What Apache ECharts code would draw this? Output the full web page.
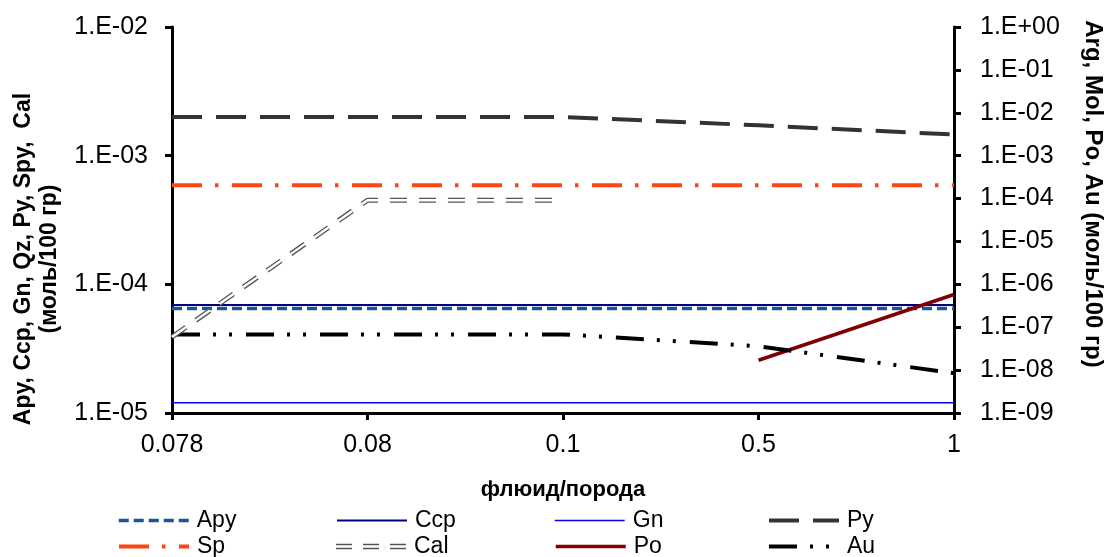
<!DOCTYPE html>
<html>
<head>
<meta charset="utf-8">
<script src="https://cdn.jsdelivr.net/npm/echarts@6/dist/echarts.min.js"></script>
<style>
html,body{margin:0;padding:0;background:#fff;}
#c{width:1106px;height:557px;}
</style>
</head>
<body>
<div id="c"></div>
<script>
// ---- data ----
var categories = ['0.078', '0.08', '0.1', '0.5', '1'];
var apy = [6.5e-5, 6.5e-5, 6.5e-5, 6.5e-5, 6.5e-5];
var ccp = [6.9e-5, 6.9e-5, 6.9e-5, 6.9e-5, 6.9e-5];
var gn  = [1.2e-5, 1.2e-5, 1.2e-5, 1.2e-5, 1.2e-5];
var py  = [2.0e-3, 2.0e-3, 2.0e-3, 1.72e-3, 1.46e-3];
var sp  = [5.9e-4, 5.9e-4, 5.9e-4, 5.9e-4, 5.9e-4];
var cal = [3.9e-5, 4.5e-4, 4.5e-4, null, null];
var po  = [null, null, null, 1.7e-8, 5.8e-7];
var au  = [6.8e-8, 6.8e-8, 6.8e-8, 3.6e-8, 8.5e-9];
var leftTicks = [1e-5, 1e-4, 1e-3, 1e-2];
var rightTicks = [1e-9, 1e-8, 1e-7, 1e-6, 1e-5, 1e-4, 1e-3, 1e-2, 1e-1, 1];

var FONT = '"Liberation Sans", Arial, sans-serif';

function fmtExp(v) {
  var e = Math.round(Math.log10(v));
  var s = e < 0 ? '-' : '+';
  var a = Math.abs(e);
  return '1.E' + s + (a < 10 ? '0' + a : '' + a);
}

function lineSeries(name, data, color, width, dash, yIdx, z) {
  return {
    name: name, type: 'line', data: data, yAxisIndex: yIdx || 0,
    symbol: 'none', showSymbol: false, connectNulls: false, z: z || 2,
    lineStyle: { color: color, width: width, type: dash || 'solid', cap: 'butt' },
    itemStyle: { color: color },
    emphasis: { disabled: true }
  };
}

var calIcon = 'path://M0,4.3h16v1.4h-16z M0,8.3h16v1.4h-16z M27,4.3h16v1.4h-16z M27,8.3h16v1.4h-16z M54,4.3h16v1.4h-16z M54,8.3h16v1.4h-16z';

function legendItem(left, top, item) {
  return {
    orient: 'horizontal', left: left, top: top, padding: 0,
    itemWidth: 70, itemHeight: 14, itemGap: 0,
    data: [item],
    selectedMode: false,
    itemStyle: { opacity: 0 },
    lineStyle: { width: 'inherit' },
    textStyle: { fontFamily: FONT, fontSize: 23, color: '#000', lineHeight: 22, padding: [0, 0, 0, 3] }
  };
}

var chart = echarts.init(document.getElementById('c'), null, { renderer: 'canvas' });
chart.setOption({
  animation: false,
  backgroundColor: '#fff',
  grid: { left: 172, right: 152, top: 27, bottom: 144 },
  xAxis: {
    type: 'category', data: categories, boundaryGap: false,
    axisLine: { show: true, lineStyle: { color: '#000', width: 3 } },
    axisTick: { show: true, alignWithLabel: true, length: 7, lineStyle: { color: '#000', width: 3 } },
    axisLabel: { fontFamily: FONT, fontSize: 25, color: '#000', margin: 20 },
    splitLine: { show: false }
  },
  yAxis: [
    {
      type: 'log', logBase: 10, min: leftTicks[0], max: leftTicks[leftTicks.length - 1], splitNumber: 3,
      position: 'left',
      axisLine: { show: true, lineStyle: { color: '#000', width: 3 } },
      axisTick: { show: true, length: 7, lineStyle: { color: '#000', width: 3 } },
      axisLabel: { fontFamily: FONT, fontSize: 25, color: '#000', margin: 24, formatter: fmtExp },
      splitLine: { show: false }, minorTick: { show: false }
    },
    {
      type: 'log', logBase: 10, min: rightTicks[0], max: rightTicks[rightTicks.length - 1], splitNumber: 9,
      position: 'right',
      axisLine: { show: true, lineStyle: { color: '#000', width: 3 } },
      axisTick: { show: true, length: 7, lineStyle: { color: '#000', width: 3 } },
      axisLabel: { fontFamily: FONT, fontSize: 25, color: '#000', margin: 26, formatter: fmtExp },
      splitLine: { show: false }, minorTick: { show: false }
    }
  ],
  legend: [
    legendItem(117, 509, 'Apy'),
    legendItem(117, 535, 'Sp'),
    legendItem(336, 509, 'Ccp'),
    legendItem(336, 535, { name: 'Cal', icon: calIcon, itemStyle: { opacity: 1, color: '#555555' } }),
    legendItem(554, 509, 'Gn'),
    legendItem(554, 535, 'Po'),
    legendItem(767, 509, 'Py'),
    legendItem(767, 535, 'Au')
  ],
  graphic: [
    {
      type: 'text', x: 37, y: 259, rotation: Math.PI / 2,
      style: {
        text: 'Apy, Ccp, Gn, Qz, Py, Spy,  Cal\n(моль/100 гр)',
        font: 'bold 23px ' + FONT, fill: '#000',
        textAlign: 'center', textVerticalAlign: 'middle', lineHeight: 26
      }
    },
    {
      type: 'text', x: 1093, y: 194, rotation: -Math.PI / 2,
      style: {
        text: 'Arg, Mol, Po, Au (моль/100 гр)',
        font: 'bold 24px ' + FONT, fill: '#000',
        textAlign: 'center', textVerticalAlign: 'middle'
      }
    },
    {
      type: 'text', x: 563, y: 490,
      style: {
        text: 'флюид/порода',
        font: 'bold 22px ' + FONT, fill: '#000',
        textAlign: 'center', textVerticalAlign: 'middle'
      }
    }
  ],
  series: [
    lineSeries('Gn', gn, '#0000FF', 1.5, 'solid', 0, 2),
    lineSeries('Ccp', ccp, '#000080', 2, 'solid', 0, 2),
    lineSeries('Apy', apy, '#1B5595', 3.5, [10, 5], 0, 3),
    lineSeries('Py', py, '#333333', 4, [30, 14], 0, 3),
    lineSeries('Sp', sp, '#FF4513', 4, [30, 13, 3.5, 13.5], 0, 3),
    lineSeries('Cal', cal, '#555555', 5, [17, 12], 0, 4),
    lineSeries('Cal_inner', cal, '#FFFFFF', 2.4, [17, 12], 0, 5),
    lineSeries('Po', po, '#800000', 3.5, 'solid', 1, 3),
    lineSeries('Au', au, '#000000', 4, [28, 13, 3, 13, 3, 14], 1, 3)
  ]
});
</script>
</body>
</html>
